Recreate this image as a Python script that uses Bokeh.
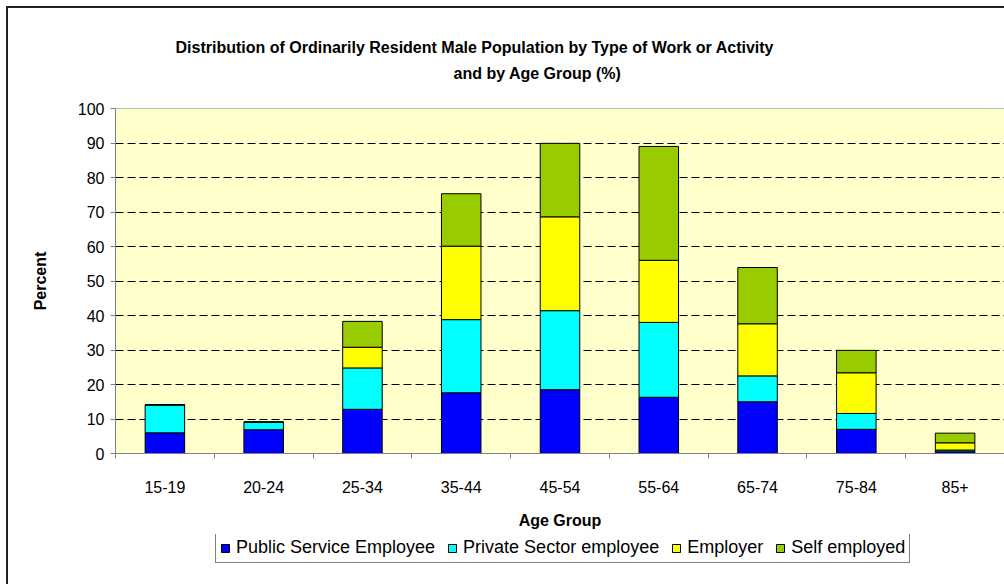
from bokeh.plotting import figure
from bokeh.layouts import column
from bokeh.models import (ColumnDataSource, FixedTicker, Range1d, Legend, LegendItem, Title, Span)
from bokeh.embed import file_html
from bokeh.resources import INLINE

# ---- data ----
age_groups = ["15-19", "20-24", "25-34", "35-44", "45-54", "55-64", "65-74", "75-84", "85+"]
public_service = [6.0, 6.9, 12.8, 17.6, 18.5, 16.3, 15.0, 7.0, 0.5]
private_sector = [8.1, 2.2, 12.0, 21.2, 22.9, 21.7, 7.5, 4.6, 0.5]
employer = [0.0, 0.0, 6.0, 21.3, 27.2, 18.0, 15.1, 11.8, 2.1]
self_employed = [0.0, 0.0, 7.5, 15.2, 21.3, 33.0, 16.3, 6.5, 2.8]
series_names = ["Public Service Employee", "Private Sector employee", "Employer", "Self employed"]
series_colors = ["#0000FF", "#00FFFF", "#FFFF00", "#99CC00"]
y_ticks = [0, 10, 20, 30, 40, 50, 60, 70, 80, 90, 100]
title_lines = ["Distribution of Ordinarily Resident Male Population by Type of Work or Activity",
               "and by Age Group (%)"]

FONT = "Liberation Sans"

n = len(age_groups)
centers = [i + 0.5 for i in range(n)]
keys = ["public", "private", "employer", "self"]
source = ColumnDataSource(dict(x=centers, public=public_service, private=private_sector,
                               employer=employer, self=self_employed))

p = figure(width=996, height=526, x_range=Range1d(0, n), y_range=Range1d(0, 100),
           output_backend="svg", toolbar_location=None, title=None,
           min_border_left=107, min_border_right=0, min_border_top=100, min_border_bottom=81,
           background_fill_color="#FFFFCC", border_fill_color="white",
           outline_line_color=None)

p.vbar_stack(keys, x="x", width=0.4, source=source, fill_color=series_colors,
             line_color="black", line_width=1)

# x axis: labels at centers, ticks at boundaries
p.xaxis.ticker = FixedTicker(ticks=centers, minor_ticks=list(range(n + 1)))
p.xaxis.major_label_overrides = {c: g for c, g in zip(centers, age_groups)}
p.xaxis.major_tick_out = 0
p.xaxis.major_tick_in = 0
p.xaxis.minor_tick_out = 5
p.xaxis.minor_tick_in = 0
p.xaxis.minor_tick_line_color = "#808080"
p.xaxis.axis_line_color = "#808080"
p.xaxis.major_label_standoff = 22
p.xaxis.major_label_text_font = FONT
p.xaxis.major_label_text_font_size = "16px"
p.xaxis.major_label_text_color = "black"
p.xaxis.axis_label = "Age Group"
p.xaxis.axis_label_text_font = FONT
p.xaxis.axis_label_text_font_size = "16px"
p.xaxis.axis_label_text_font_style = "bold"
p.xaxis.axis_label_text_color = "black"
p.xaxis.axis_label_standoff = 16

p.yaxis.ticker = FixedTicker(ticks=y_ticks)
p.yaxis.major_tick_out = 5
p.yaxis.major_tick_in = 0
p.yaxis.minor_tick_line_color = None
p.yaxis.major_tick_line_color = "#808080"
p.yaxis.axis_line_color = "#808080"
p.yaxis.major_label_standoff = 6
p.yaxis.major_label_text_font = FONT
p.yaxis.major_label_text_font_size = "16px"
p.yaxis.major_label_text_color = "black"
p.yaxis.axis_label = "Percent"
p.yaxis.axis_label_text_font = FONT
p.yaxis.axis_label_text_font_size = "16px"
p.yaxis.axis_label_text_font_style = "bold"
p.yaxis.axis_label_text_color = "black"
p.yaxis.axis_label_standoff = 26

p.xgrid.visible = False
p.ygrid.ticker = FixedTicker(ticks=y_ticks)
p.ygrid.grid_line_color = "black"
p.ygrid.grid_line_dash = "8 4"
p.ygrid.grid_line_width = 1

# plot-area top edge (grey, solid)
p.add_layout(Span(location=100, dimension="width", line_color="#808080", line_width=1))

# title lines (later-added titles sit farther from the frame)
for txt, sd, offs in [(title_lines[1], 54, 338), (title_lines[0], -40, 60)]:
    p.add_layout(Title(text=txt, align="left", offset=offs, standoff=sd,
                       text_font=FONT, text_font_size="16px", text_font_style="bold",
                       text_color="black"), "above")

# ---- legend strip below the chart (its frame lines up with the chart's frame) ----
leg = figure(width=996, height=50, x_range=Range1d(-20, -19), y_range=Range1d(0, 1),
             output_backend="svg", toolbar_location=None, title=None,
             min_border_left=0, min_border_right=0, min_border_top=0, min_border_bottom=0,
             background_fill_color="white", border_fill_color="white", outline_line_color=None)
leg.axis.visible = False
leg.grid.visible = False
swatches = leg.vbar_stack(keys, x="x", width=0.4, source=source, fill_color=series_colors,
                          line_color="black", line_width=1)
legend = Legend(items=[LegendItem(label=nm, renderers=[r]) for nm, r in zip(series_names, swatches)],
                orientation="horizontal", location=(100, 21),
                label_text_font=FONT, label_text_font_size="18px", label_text_color="black",
                glyph_width=10, glyph_height=10, label_standoff=6, spacing=12,
                padding=4, margin=0, border_line_color="black", border_line_width=1,
                background_fill_color="white", background_fill_alpha=1)
leg.add_layout(legend)

layout = column(p, leg, spacing=0)
# outer chart frame (left and top edges visible in the reference)
layout.styles = {"border-left": "2px solid #202020", "border-top": "2px solid #202020",
                 "margin-left": "6px", "margin-top": "6px"}

open("out.html", "w").write(file_html(layout, INLINE))
